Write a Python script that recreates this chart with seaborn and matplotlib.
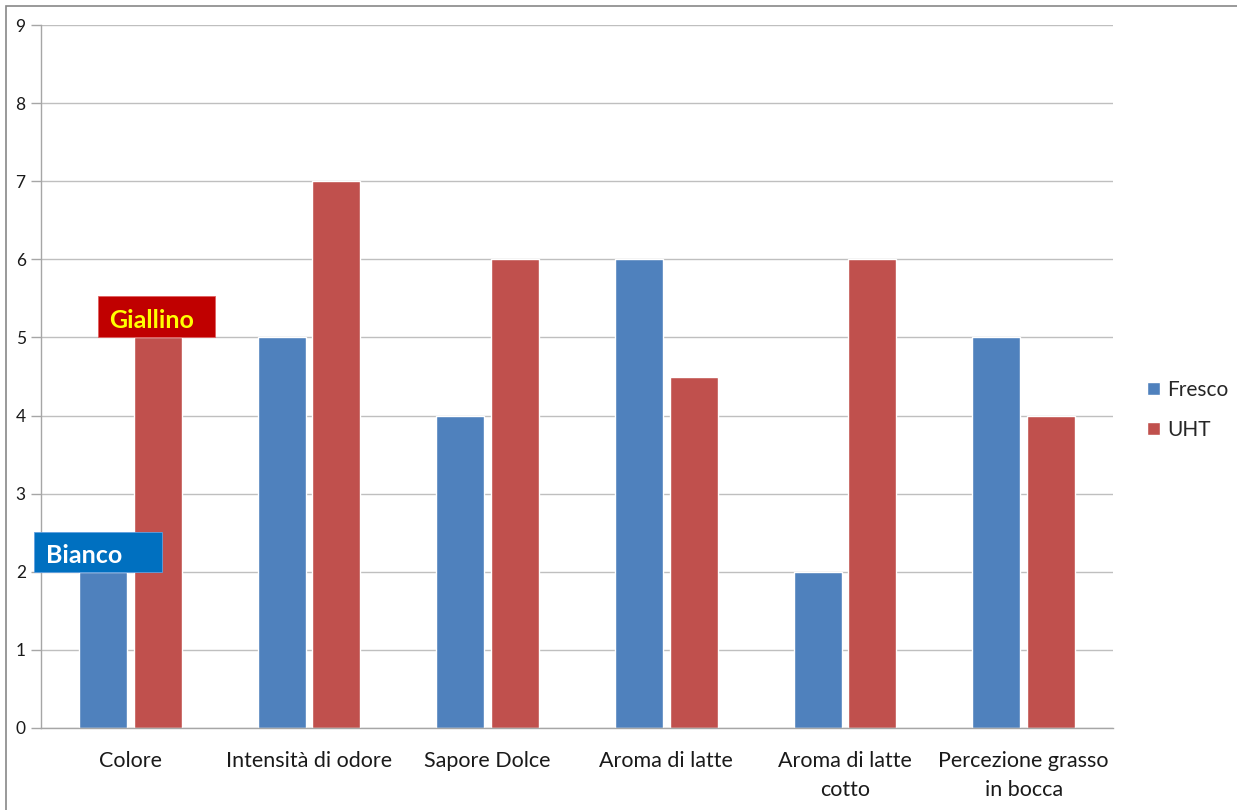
import matplotlib
matplotlib.use("Agg")
import matplotlib.pyplot as plt
from matplotlib.patches import Rectangle
from matplotlib.ticker import FixedLocator
import pandas as pd
import seaborn as sns

# Sensory attributes and panel scores for the two milk types
categories = ["Colore", "Intensità di odore", "Sapore Dolce", "Aroma di latte",
              "Aroma di latte\ncotto", "Percezione grasso\nin bocca"]
fresco = [2, 5, 4, 6, 2, 5]
uht = [5, 7, 6, 4.5, 6, 4]
series_names = ["Fresco", "UHT"]
y_ticks = [0, 1, 2, 3, 4, 5, 6, 7, 8, 9]

blue = "#4F81BD"
red = "#C0504D"
grid_col = "#BFBFBF"
axis_col = "#A6A6A6"

df = pd.DataFrame({
    "cat": categories * 2,
    "val": fresco + uht,
    "serie": [series_names[0]] * len(categories) + [series_names[1]] * len(categories),
})

sns.set_theme(style="white")
plt.rcParams["font.family"] = ["Lato", "DejaVu Sans"]

fig = plt.figure(figsize=(12.37, 8.10), dpi=100)
ax = fig.add_axes([41 / 1237, 82 / 810, (1113 - 41) / 1237, (728 - 25) / 810])

sns.barplot(data=df, x="cat", y="val", hue="serie", order=categories,
            hue_order=series_names, palette=[blue, red], width=0.61, gap=0.12,
            saturation=1, ax=ax, legend=True)

ax.set_xlim(-0.5, len(categories) - 0.5)
ax.set_ylim(y_ticks[0], y_ticks[-1])
ax.set_yticks(y_ticks)
ax.set_xlabel("")
ax.set_ylabel("")

# Horizontal gridlines
ax.yaxis.grid(True, color=grid_col, linewidth=1)
ax.set_axisbelow(True)

for side in ["top", "right"]:
    ax.spines[side].set_visible(False)
for side in ["left", "bottom"]:
    ax.spines[side].set_color(axis_col)
    ax.spines[side].set_linewidth(1)

# Category labels centred, tick marks at category boundaries
ax.xaxis.set_minor_locator(FixedLocator([i - 0.5 for i in range(len(categories) + 1)]))
ax.tick_params(axis="x", which="major", length=0, pad=16.5, labelsize=15.5, labelcolor="#1a1a1a")
ax.tick_params(axis="x", which="minor", length=7, width=1, color=axis_col, direction="out")
ax.tick_params(axis="y", which="major", length=7, width=1, color=axis_col, direction="out",
               pad=4, labelsize=12.5, labelcolor="#1a1a1a")
ax.tick_params(axis="both", bottom=True, left=True)
for lbl in ax.get_xticklabels():
    lbl.set_linespacing(1.55)

# Colour descriptors sitting on top of the "Colore" bars
ax.add_patch(Rectangle((-0.18, uht[0]), 0.655, 0.53, facecolor="#C00000",
                       edgecolor="#E06060", linewidth=0.6, zorder=5, clip_on=False))
ax.text(0.12, uht[0] + 0.22, "Giallino", color="#FFFF00", fontsize=18, fontweight="bold",
        ha="center", va="center", zorder=6)
ax.add_patch(Rectangle((-0.54, fresco[0]), 0.72, 0.51, facecolor="#0070C0",
                       edgecolor="#60A0E0", linewidth=0.6, zorder=5, clip_on=False))
ax.text(-0.26, fresco[0] + 0.21, "Bianco", color="white", fontsize=18, fontweight="bold",
        ha="center", va="center", zorder=6)

# Legend on the right side
ax.legend_.remove()
handles = [Rectangle((0, 0), 1, 1, facecolor=blue), Rectangle((0, 0), 1, 1, facecolor=red)]
fig.legend(handles, series_names, loc="center left", bbox_to_anchor=(1139 / 1237, 1 - 410 / 810),
           frameon=False, fontsize=15, handlelength=0.6, handleheight=0.6, handletextpad=0.35,
           labelspacing=0.95, borderaxespad=0)

# Outer chart border
fig.patches.append(Rectangle((6 / 1237, -0.01), 1.1, 1 - 6 / 810 + 0.01,
                             transform=fig.transFigure, facecolor="none",
                             edgecolor="#888888", linewidth=1.2))

fig.savefig("out.png", dpi=100, facecolor="white")
